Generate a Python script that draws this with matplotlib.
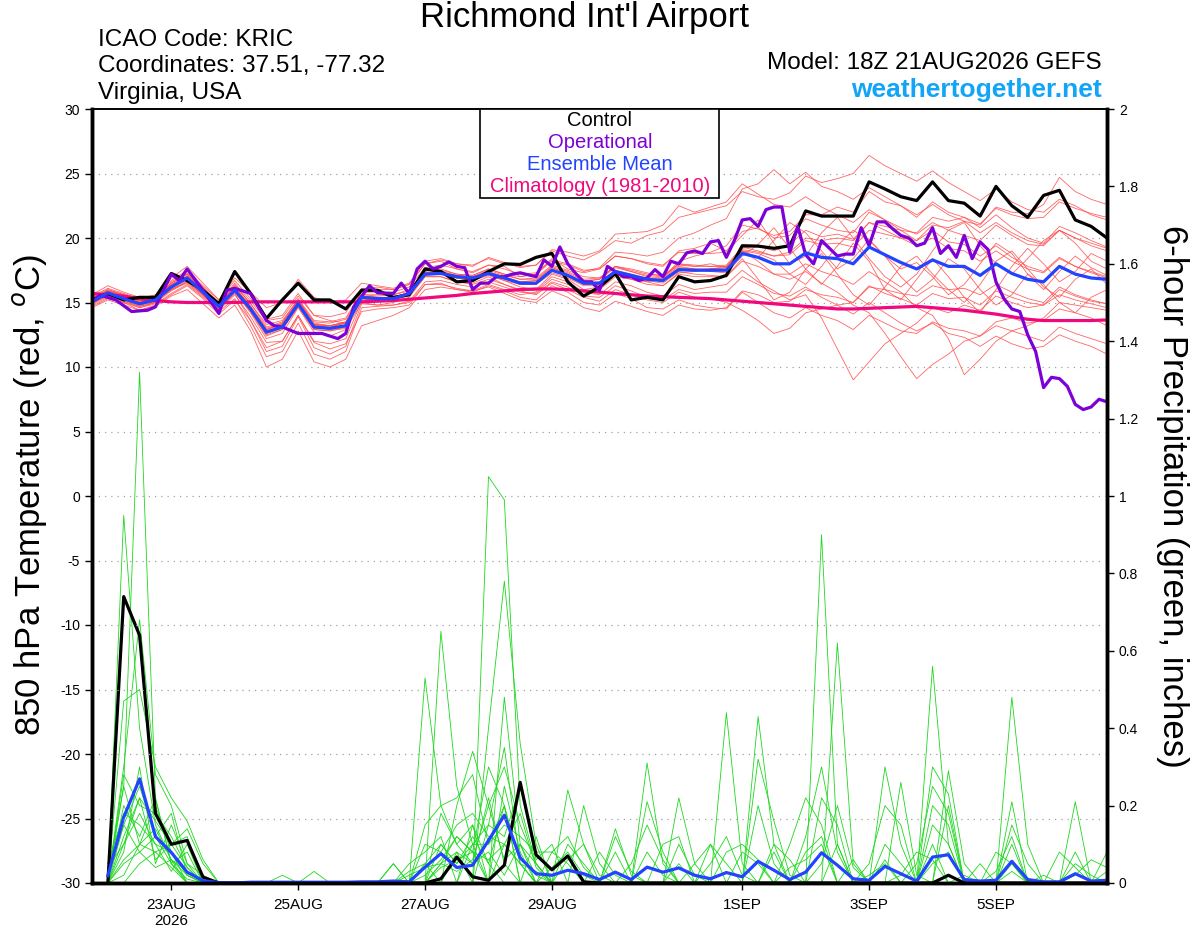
import matplotlib
matplotlib.use("Agg")
import matplotlib.pyplot as plt
from matplotlib.patches import Rectangle
import numpy as np

plt.rcParams['font.family'] = ['Liberation Sans', 'DejaVu Sans']
plt.rcParams['axes.unicode_minus'] = False

# forecast hours since 18Z 21AUG2026, 6-hourly
hours = list(range(0, 385, 6))
pcp_hours = list(range(6, 385, 6))

tick_hours = [30, 78, 126, 174, 246, 294, 342]
tick_labels = ['23AUG\n2026', '25AUG', '27AUG', '29AUG', '1SEP', '3SEP', '5SEP']

# 850 hPa temperature (C)
control_t = [15.2, 15.7, 15.2, 15.4, 15.4, 17.25, 16.7, 15.95, 14.9, 17.4, 15.7, 13.76, 15.2,
             16.5, 15.2, 15.2, 14.5, 15.95, 15.95, 15.4, 15.6, 17.6, 17.4, 16.6, 16.7, 17.4,
             18.0, 17.95, 18.5, 18.8, 16.6, 15.5, 16.2, 17.25, 15.2, 15.4, 15.2, 17.0, 16.6,
             16.7, 17.1, 19.4, 19.37, 19.2, 19.4, 22.1, 21.7, 21.7, 21.7, 24.35, 23.8, 23.2,
             22.9, 24.35, 22.9, 22.7, 21.7, 24.0, 22.5, 21.6, 23.3, 23.7, 21.4, 20.9, 20.0]

mean_t = [15.05, 15.75, 15.3, 14.9, 15.2, 16.2, 16.9, 15.8, 14.7, 15.95, 14.5, 12.7, 13.1,
          14.9, 13.1, 13.0, 13.2, 15.4, 15.3, 15.3, 15.7, 17.2, 17.25, 17.0, 16.9, 17.25,
          16.9, 16.5, 16.5, 17.5, 17.1, 16.5, 16.5, 17.4, 17.1, 16.8, 16.7, 17.55, 17.5,
          17.5, 17.5, 18.8, 18.5, 18.0, 18.0, 18.85, 18.5, 18.4, 18.0, 19.3, 18.7, 18.1,
          17.6, 18.3, 17.8, 17.8, 17.1, 18.0, 17.25, 16.8, 16.6, 17.8, 17.2, 16.9, 16.8]

clim_t = [15.7, 15.6, 15.5, 15.3, 15.15, 15.05, 15.0, 15.0, 15.0, 15.0, 15.05, 15.05, 15.05,
          15.05, 15.05, 15.05, 15.05, 15.05, 15.1, 15.15, 15.25, 15.35, 15.45, 15.55, 15.7, 15.8,
          15.9, 16.0, 16.05, 16.05, 16.0, 15.9, 15.8, 15.7, 15.6, 15.5, 15.45, 15.4, 15.35,
          15.3, 15.2, 15.1, 15.0, 14.9, 14.8, 14.7, 14.6, 14.5, 14.5, 14.55, 14.6, 14.65,
          14.7, 14.6, 14.5, 14.4, 14.25, 14.1, 13.9, 13.7, 13.6, 13.6, 13.6, 13.6, 13.65]

oper_hours = [0, 3, 9, 15, 21, 24, 30, 33, 36, 42, 48, 51, 54, 60, 66, 69, 72, 78, 87, 93, 96,
              99, 105, 108, 114, 117, 120, 123, 126, 129, 132, 135, 138, 141, 144, 147, 150,
              153, 156, 159, 162, 168, 171, 174, 177, 180, 183, 186, 189, 192, 195, 198, 201,
              204, 207, 210, 213, 216, 219, 222, 225, 228, 231, 234, 237, 240, 243, 246, 249,
              252, 255, 258, 261, 264, 267, 270, 273, 276, 279, 282, 285, 288, 291, 294, 297,
              300, 303, 306, 309, 312, 315, 318, 321, 324, 327, 330, 333, 336, 339, 342, 345,
              348, 351, 354, 357, 360, 363, 366, 369, 372, 375, 378, 381, 384]
oper_t = [15.05, 15.57, 15.2, 14.3, 14.4, 14.66, 17.2, 16.7, 17.6, 15.95, 14.15, 15.95, 16.1,
          15.7, 13.6, 13.2, 13.1, 12.6, 12.6, 12.2, 12.6, 14.66, 16.3, 15.75, 15.7, 16.5, 15.7,
          17.6, 18.2, 17.6, 17.8, 18.15, 17.8, 17.7, 16.0, 16.5, 16.5, 17.0, 17.0, 17.2, 17.3,
          17.0, 18.3, 17.8, 19.3, 18.0, 17.25, 16.6, 16.6, 15.95, 17.8, 17.4, 17.0, 17.0, 16.7,
          16.9, 17.55, 17.0, 18.2, 18.0, 18.85, 19.0, 18.8, 19.7, 19.8, 18.5, 19.8, 21.4, 21.5,
          20.9, 22.2, 22.4, 22.4, 18.9, 20.9, 18.7, 18.0, 19.8, 19.2, 18.6, 18.75, 18.75, 20.8,
          19.4, 21.25, 21.25, 20.7, 20.2, 20.0, 19.4, 19.6, 20.8, 18.8, 19.4, 18.5, 20.2, 18.4,
          19.7, 19.1, 16.6, 15.3, 14.5, 14.3, 12.5, 11.2, 8.4, 9.2, 9.1, 8.5, 7.1, 6.7, 6.9,
          7.5, 7.3]

temp_members = [
    [15.4, 16.0, 15.6, 15.2, 15.0, 16.6, 17.3, 16.2, 15.0, 16.5, 15.1, 13.6, 13.8,
     15.5, 14.0, 13.6, 13.4, 15.9, 16.2, 16.0, 16.4, 18.0, 18.2, 17.6, 17.3, 17.9,
     17.8, 17.0, 17.2, 18.4, 17.6, 17.3, 17.6, 18.6, 18.4, 18.0, 17.8, 19.0, 19.2,
     19.6, 19.0, 20.5, 20.8, 20.0, 20.2, 21.5, 21.0, 20.6, 20.4, 22.0, 21.4, 20.8,
     20.3, 21.2, 20.6, 20.2, 19.8, 21.0, 20.2, 19.5, 19.4, 20.6, 20.0, 19.6, 19.2],
    [14.8, 15.4, 15.0, 14.4, 14.8, 15.6, 16.3, 15.3, 14.1, 15.2, 13.6, 11.5, 12.0,
     14.0, 11.9, 11.4, 11.8, 14.3, 14.5, 14.6, 14.8, 16.4, 16.5, 16.0, 15.8, 16.3,
     15.9, 15.4, 15.2, 16.3, 15.8, 15.0, 14.8, 15.7, 15.3, 14.6, 14.5, 15.2, 14.8,
     14.6, 14.5, 15.8, 15.0, 14.2, 13.8, 14.6, 14.0, 13.6, 12.9, 14.0, 13.4, 12.8,
     12.6, 13.5, 13.0, 12.8, 12.4, 13.2, 12.8, 12.4, 12.0, 13.1, 12.6, 12.2, 11.8],
    [15.6, 16.3, 15.8, 15.4, 15.5, 16.9, 17.8, 16.5, 15.2, 16.9, 15.8, 14.6, 15.0,
     16.8, 15.4, 15.0, 15.2, 16.5, 16.3, 16.1, 16.5, 18.2, 18.4, 18.0, 17.8, 18.5,
     18.1, 17.7, 17.9, 19.0, 18.6, 18.3, 18.9, 19.8, 19.6, 20.2, 20.5, 21.6, 21.9,
     22.2, 22.5, 23.6, 23.2, 23.0, 23.5, 24.8, 24.3, 24.6, 25.0, 26.4, 25.6, 25.0,
     24.4, 25.2, 24.3, 23.6, 22.9, 23.8, 22.8, 22.2, 22.0, 23.0, 22.5, 21.8, 21.4],
    [15.0, 15.5, 15.4, 14.8, 15.3, 16.0, 16.5, 15.5, 14.5, 15.8, 14.2, 12.2, 12.6,
     14.6, 12.7, 12.4, 12.9, 15.0, 14.8, 15.0, 15.4, 17.0, 17.0, 16.6, 16.5, 17.0,
     16.4, 16.0, 15.9, 17.0, 16.6, 15.8, 15.6, 16.6, 16.3, 15.8, 15.5, 16.4, 16.0,
     16.2, 16.4, 17.5, 16.6, 15.9, 15.2, 15.6, 13.8, 11.4, 9.0, 10.4, 11.8, 12.6,
     13.4, 14.6, 14.2, 14.8, 14.4, 15.5, 15.0, 14.6, 14.8, 15.6, 15.2, 14.9, 14.6],
    [15.2, 15.9, 15.5, 15.0, 15.4, 16.4, 17.1, 16.0, 14.9, 16.3, 14.9, 13.3, 13.6,
     15.2, 13.5, 13.4, 13.7, 15.6, 15.5, 15.6, 16.0, 17.4, 17.6, 17.2, 17.1, 17.6,
     17.2, 16.8, 16.9, 17.9, 17.5, 17.0, 16.9, 17.8, 17.6, 17.3, 17.0, 18.0, 17.8,
     18.0, 17.7, 19.0, 18.2, 17.2, 16.8, 17.4, 16.5, 15.8, 14.8, 14.2, 12.6, 10.8,
     9.1, 10.2, 11.0, 12.0, 12.4, 13.5, 13.8, 13.4, 13.6, 14.5, 14.2, 13.8, 13.2],
    [14.6, 15.2, 14.8, 14.4, 14.7, 15.5, 16.0, 14.9, 13.8, 14.8, 12.8, 10.0, 10.6,
     12.8, 10.4, 10.0, 10.6, 13.2, 13.6, 14.0, 14.6, 16.0, 16.2, 16.0, 15.9, 16.4,
     16.0, 15.6, 15.8, 16.8, 16.4, 15.9, 16.0, 17.0, 16.8, 16.6, 16.3, 17.3, 17.4,
     17.6, 17.8, 19.2, 19.4, 19.0, 19.5, 20.6, 20.1, 20.3, 19.9, 21.2, 20.6, 20.0,
     19.4, 20.0, 19.2, 19.0, 18.2, 19.0, 18.2, 17.6, 17.3, 18.4, 17.8, 17.4, 17.0],
    [15.3, 15.8, 15.2, 14.7, 15.0, 16.3, 17.0, 15.9, 14.6, 16.2, 14.7, 12.9, 13.4,
     15.0, 13.2, 13.1, 13.4, 15.5, 15.4, 15.2, 15.5, 17.1, 17.3, 16.9, 16.7, 17.2,
     16.7, 16.2, 16.0, 17.2, 16.8, 16.0, 16.2, 17.3, 17.0, 16.6, 16.9, 18.2, 18.6,
     18.9, 19.4, 21.0, 20.7, 20.2, 20.5, 21.8, 21.8, 22.4, 22.0, 23.6, 22.8, 22.5,
     21.6, 22.8, 22.0, 21.6, 20.8, 21.8, 20.8, 20.0, 19.6, 20.9, 20.4, 19.8, 19.3],
    [14.9, 15.6, 15.1, 14.6, 15.0, 15.9, 16.6, 15.6, 14.4, 15.6, 13.9, 11.9, 12.0,
     14.0, 12.0, 11.8, 12.2, 15.1, 15.2, 15.2, 15.6, 17.0, 17.0, 16.6, 16.4, 16.8,
     16.4, 15.9, 15.6, 16.5, 16.0, 15.4, 15.1, 16.0, 15.6, 15.2, 15.0, 15.8, 15.4,
     15.3, 15.0, 14.4, 13.6, 12.6, 13.0, 14.2, 14.5, 14.8, 15.0, 16.2, 16.0, 15.7,
     15.5, 16.3, 16.0, 16.1, 15.6, 16.4, 15.8, 15.3, 15.0, 16.2, 15.6, 15.2, 14.9],
    [15.5, 16.1, 15.7, 15.3, 15.6, 16.7, 17.5, 16.3, 15.2, 16.7, 15.3, 13.7, 14.0,
     15.7, 14.0, 13.9, 14.2, 16.1, 16.0, 16.0, 16.4, 18.0, 18.3, 18.0, 17.9, 18.4,
     18.0, 17.8, 17.9, 19.1, 18.9, 18.6, 19.0, 20.3, 20.4, 20.5, 21.0, 22.5, 22.0,
     22.4, 22.8, 24.2, 23.4, 22.6, 22.4, 23.2, 22.4, 21.8, 21.2, 22.2, 21.4, 20.6,
     19.8, 20.6, 19.7, 19.5, 18.6, 19.4, 18.5, 17.8, 17.4, 18.5, 17.8, 17.3, 16.9],
    [15.3, 15.9, 15.5, 15.1, 15.3, 16.4, 17.0, 15.9, 14.8, 16.1, 14.6, 12.8, 13.2,
     15.0, 13.2, 13.2, 13.5, 15.6, 15.6, 15.6, 15.9, 17.5, 17.5, 17.2, 17.1, 17.6,
     17.2, 17.0, 17.2, 18.2, 17.9, 17.4, 17.7, 18.9, 18.8, 18.6, 18.9, 20.0, 20.4,
     21.0, 21.5, 23.8, 24.2, 25.3, 24.2, 25.1, 24.0, 23.6, 23.0, 23.9, 23.2, 22.5,
     21.8, 22.6, 21.8, 21.3, 20.4, 21.2, 20.4, 19.8, 19.5, 20.6, 20.0, 19.4, 19.0],
    [15.0, 15.6, 15.2, 14.9, 15.1, 16.1, 16.8, 15.7, 14.6, 15.9, 14.3, 12.5, 12.9,
     14.7, 12.9, 12.8, 13.0, 15.3, 15.2, 15.3, 15.8, 17.3, 17.4, 17.0, 16.8, 17.2,
     16.9, 16.6, 16.7, 17.7, 17.2, 16.6, 16.8, 17.8, 17.4, 17.0, 16.9, 17.8, 17.6,
     17.4, 17.3, 18.6, 19.5, 20.8, 19.2, 17.6, 16.4, 17.8, 19.6, 18.2, 16.0, 15.2,
     16.8, 18.4, 17.0, 15.4, 14.2, 16.0, 17.8, 19.2, 18.0, 16.6, 17.4, 18.8, 18.2],
    [15.2, 15.8, 15.4, 15.0, 15.2, 16.3, 17.0, 16.0, 14.9, 16.1, 14.6, 12.9, 13.3,
     15.1, 13.3, 13.2, 13.5, 15.5, 15.4, 15.4, 15.8, 17.3, 17.4, 17.1, 17.0, 17.4,
     17.0, 16.6, 16.7, 17.7, 17.3, 16.7, 16.8, 17.7, 17.4, 17.1, 17.0, 17.9, 17.8,
     17.8, 17.9, 19.3, 19.0, 18.6, 18.7, 19.8, 19.5, 19.6, 19.3, 20.6, 20.3, 20.0,
     19.8, 21.0, 20.8, 21.3, 21.0, 22.4, 22.0, 21.9, 22.6, 24.7, 23.6, 23.0, 22.6],
    [14.7, 15.3, 15.0, 14.6, 14.9, 15.7, 16.4, 15.4, 14.3, 15.3, 13.2, 10.8, 11.2,
     13.4, 11.0, 10.6, 11.2, 14.6, 14.7, 14.8, 15.1, 16.6, 16.7, 16.4, 16.2, 16.6,
     16.2, 15.8, 15.7, 16.6, 16.2, 15.5, 15.4, 16.3, 15.9, 15.4, 15.2, 16.0, 15.7,
     15.8, 15.8, 17.0, 16.4, 15.7, 15.5, 16.2, 15.4, 14.8, 14.1, 15.0, 14.2, 13.4,
     12.8, 13.4, 12.6, 12.3, 11.6, 12.4, 11.8, 11.4, 11.6, 12.5, 12.0, 11.6, 11.0],
    [15.4, 15.9, 15.6, 15.1, 15.4, 16.5, 17.2, 16.1, 14.9, 16.4, 14.9, 13.1, 13.5,
     15.3, 13.6, 13.5, 13.8, 15.8, 15.8, 15.8, 16.2, 17.7, 17.9, 17.6, 17.4, 17.9,
     17.6, 17.2, 17.3, 18.3, 18.0, 17.5, 17.6, 18.6, 18.4, 18.1, 17.9, 18.9, 18.8,
     18.8, 18.9, 20.2, 21.4, 19.6, 18.0, 18.6, 20.4, 21.6, 20.0, 18.4, 17.0, 16.2,
     17.2, 19.0, 20.6, 21.2, 19.4, 18.0, 17.2, 18.4, 19.8, 20.6, 19.6, 18.2, 17.6],
    [15.1, 15.7, 15.3, 14.9, 15.2, 16.2, 16.8, 15.8, 14.7, 16.0, 14.5, 12.6, 13.0,
     14.8, 13.0, 12.9, 13.1, 15.3, 15.2, 15.2, 15.6, 17.1, 17.2, 16.9, 16.7, 17.1,
     16.7, 16.4, 16.4, 17.3, 16.9, 16.3, 16.3, 17.2, 16.8, 16.4, 16.3, 17.2, 17.0,
     17.0, 17.0, 18.2, 17.8, 17.2, 17.2, 18.0, 17.4, 17.0, 16.4, 17.4, 16.6, 15.8,
     14.6, 14.0, 12.2, 9.4, 10.6, 12.0, 12.8, 13.2, 13.8, 15.0, 14.8, 14.6, 14.4],
    [15.3, 16.0, 15.6, 15.1, 15.4, 16.5, 17.2, 16.0, 14.9, 16.2, 14.7, 13.0, 13.4,
     15.2, 13.4, 13.2, 13.4, 15.4, 15.3, 15.3, 15.6, 17.2, 17.3, 16.9, 16.8, 17.3,
     16.9, 16.4, 16.4, 17.5, 17.1, 16.4, 16.4, 17.3, 17.0, 16.7, 16.5, 17.4, 17.2,
     17.1, 17.0, 18.4, 16.8, 15.2, 15.8, 17.6, 18.8, 17.2, 15.6, 14.8, 16.2, 17.8,
     18.6, 17.2, 16.0, 15.0, 16.4, 18.2, 19.0, 17.6, 16.2, 15.4, 16.8, 17.6, 16.4],
    [14.9, 15.5, 15.1, 14.7, 15.0, 16.0, 16.6, 15.6, 14.5, 15.7, 13.6, 11.2, 11.6,
     13.9, 11.5, 11.0, 11.6, 14.9, 14.8, 14.8, 15.0, 16.4, 16.4, 16.1, 15.9, 16.2,
     15.7, 15.2, 15.0, 15.9, 15.4, 14.6, 14.3, 15.1, 14.7, 14.3, 14.0, 14.8, 14.5,
     14.4, 14.6, 15.9, 15.6, 15.0, 15.1, 16.0, 15.6, 15.4, 15.0, 16.3, 15.7, 15.3,
     14.8, 15.7, 15.3, 15.4, 14.8, 15.9, 15.4, 15.0, 14.8, 16.0, 15.5, 15.1, 14.9],
    [15.0, 15.6, 15.3, 14.8, 15.1, 16.1, 16.9, 15.8, 14.7, 16.0, 14.5, 12.7, 13.1,
     14.9, 13.1, 13.0, 13.2, 15.4, 15.3, 15.3, 15.7, 17.2, 17.2, 16.9, 16.8, 17.2,
     16.8, 16.5, 16.4, 17.5, 17.0, 16.4, 16.4, 17.4, 17.1, 16.8, 16.7, 17.6, 17.5,
     17.6, 17.7, 19.1, 18.9, 18.6, 18.9, 20.0, 19.8, 20.0, 19.8, 21.2, 20.9, 20.6,
     20.4, 21.6, 21.3, 21.6, 21.1, 22.3, 21.8, 21.5, 21.6, 22.8, 22.3, 21.9, 21.6],
    [15.2, 15.8, 15.4, 15.0, 15.3, 16.3, 17.0, 15.9, 14.8, 16.1, 14.6, 12.9, 13.3,
     15.1, 13.3, 13.2, 13.4, 15.5, 15.4, 15.4, 15.8, 17.3, 17.4, 17.1, 17.0, 17.5,
     17.1, 16.8, 16.8, 17.8, 17.4, 16.8, 16.9, 17.8, 17.5, 17.2, 17.1, 18.0, 17.9,
     17.8, 17.8, 19.0, 18.5, 19.8, 21.2, 20.4, 19.0, 17.6, 18.4, 19.9, 18.6, 17.0,
     15.8, 16.8, 18.4, 17.6, 16.0, 14.8, 15.6, 17.2, 16.4, 15.0, 14.2, 15.4, 16.0],
    [15.1, 15.6, 15.2, 14.8, 15.1, 16.0, 16.7, 15.6, 14.5, 15.8, 14.3, 12.4, 12.9,
     14.7, 12.9, 12.8, 13.1, 15.2, 15.2, 15.3, 15.7, 17.2, 17.3, 17.0, 16.9, 17.3,
     16.9, 16.5, 16.5, 17.5, 17.1, 16.5, 16.6, 17.5, 17.2, 16.9, 16.8, 17.7, 17.6,
     17.6, 17.6, 19.0, 18.8, 18.3, 17.2, 16.4, 17.8, 19.4, 20.6, 19.8, 18.6, 17.6,
     18.1, 17.0, 15.6, 16.4, 18.0, 19.6, 18.8, 17.2, 16.0, 17.4, 18.6, 17.7, 17.1],
]

# 6-hour precipitation (inches), valid 6h..384h
control_p = [0, .74, .64, .18, .10, .11, .015, 0, 0, 0, 0, 0, 0, 0, 0, 0,
             0, 0, 0, 0, 0, .011, .067, .016, .007, .046, .26, .073, .034, .07, .003, 0,
             0, 0, 0, 0, 0, 0, 0, 0, 0, 0, 0, 0, 0, 0, 0, 0,
             0, 0, 0, 0, 0, .02, 0, 0, 0, 0, 0, 0, 0, 0, 0, 0]
mean_p = [.019, .17, .269, .12, .079, .028, .006, .001, 0, .002, .002, .002, .002, .002, .002, .002,
          .003, .003, .005, .003, .041, .076, .04, .046, .11, .175, .065, .024, .02, .033, .024, .009,
          .028, .009, .041, .028, .039, .02, .011, .027, .016, .056, .033, .009, .028, .078, .046, .011,
          .007, .043, .024, .005, .067, .073, .009, .005, .007, .056, .009, .003, .003, .024, .005, .007]

precip_members = [
    [.02, .25, 1.32, .22, .05, .01, 0, 0, 0, 0, 0, 0, 0, 0, 0, 0,
     0, 0, 0, 0, 0, .05, .12, .08, .3, .2, .05, 0, 0, 0, 0, 0,
     0, 0, .31, .05, 0, 0, 0, 0, 0, 0, 0, 0, 0, .9, .1, 0,
     0, 0, 0, 0, .1, 0, 0, 0, 0, 0, 0, 0, 0, 0, 0, 0],
    [0, .95, .4, .15, .06, 0, 0, 0, 0, 0, 0, 0, 0, 0, 0, 0,
     0, 0, 0, 0, .53, .2, .1, .15, .05, 0, 0, 0, 0, 0, 0, 0,
     0, 0, 0, 0, 0, 0, 0, .44, .05, 0, 0, 0, 0, 0, 0, 0,
     0, .3, .1, 0, 0, 0, 0, 0, 0, .05, 0, 0, 0, 0, 0, 0],
    [0, .3, .68, .28, .2, .05, 0, 0, 0, 0, 0, 0, 0, 0, 0, 0,
     0, 0, 0, 0, 0, .65, .25, .1, 0, .48, .1, 0, 0, 0, 0, 0,
     0, 0, 0, 0, 0, 0, 0, 0, 0, .43, .1, 0, 0, 0, 0, 0,
     0, 0, 0, 0, .56, .1, 0, 0, 0, 0, 0, 0, 0, 0, 0, 0],
    [0, .47, .5, .3, .22, .16, .06, 0, 0, 0, 0, 0, 0, 0, 0, 0,
     0, 0, 0, 0, 0, 0, 0, 0, 1.05, .99, .2, .05, 0, 0, 0, 0,
     0, 0, 0, 0, 0, 0, 0, 0, 0, 0, 0, 0, 0, 0, .62, .05,
     0, 0, 0, 0, 0, 0, 0, 0, 0, .48, .1, 0, 0, 0, 0, 0],
    [0, .28, .2, .18, .12, .04, 0, 0, 0, 0, 0, 0, 0, 0, 0, 0,
     0, 0, 0, 0, 0, 0, 0, 0, .4, .78, .36, .1, 0, 0, 0, 0,
     .14, .02, 0, 0, 0, 0, 0, 0, 0, .32, .16, .02, 0, 0, 0, 0,
     0, 0, 0, 0, 0, 0, 0, 0, 0, 0, 0, 0, 0, .21, 0, 0],
    [.05, .18, .15, .1, .08, 0, 0, 0, 0, 0, 0, 0, 0, 0, 0, 0,
     0, 0, 0, 0, 0, 0, .2, .34, .2, .3, .15, .05, 0, .24, .1, 0,
     0, 0, 0, 0, 0, 0, 0, 0, 0, 0, 0, 0, 0, .22, .15, 0,
     0, 0, 0, 0, 0, .29, .05, 0, 0, 0, 0, 0, 0, 0, 0, 0],
    [0, .12, .22, .16, .1, .12, 0, 0, 0, 0, 0, 0, 0, 0, 0, 0,
     0, 0, 0, 0, .15, .2, .22, .28, .1, .2, 0, .12, 0, 0, .2, .05,
     0, 0, 0, 0, .22, .05, 0, 0, 0, 0, 0, 0, 0, 0, 0, 0,
     0, 0, .26, .02, 0, 0, 0, 0, 0, 0, 0, 0, 0, 0, 0, 0],
    [0, .08, .3, .05, .15, .05, .02, 0, 0, 0, 0, 0, 0, 0, 0, 0,
     0, 0, 0, .05, .08, .12, 0, .15, 0, .25, .08, 0, 0, 0, 0, 0,
     0, 0, .21, .08, 0, 0, 0, 0, 0, 0, 0, .1, .22, .15, 0, 0,
     0, 0, 0, 0, .3, .23, 0, 0, 0, .21, 0, 0, 0, 0, 0, 0],
    [0, .2, .12, .22, .05, .08, 0, 0, 0, 0, 0, 0, 0, 0, 0, 0,
     0, 0, 0, 0, 0, .05, .08, 0, .15, .12, .25, .06, .1, 0, 0, 0,
     .08, 0, 0, 0, 0, 0, .1, .05, 0, 0, 0, 0, 0, 0, 0, 0,
     .05, .2, .15, 0, 0, 0, 0, 0, 0, 0, 0, 0, 0, 0, 0, .08],
    [.02, .15, .08, .12, .18, .02, 0, 0, 0, 0, 0, 0, 0, 0, 0, 0,
     0, 0, .05, 0, 0, .18, .1, .05, .22, .05, 0, 0, 0, .1, .05, 0,
     0, 0, 0, 0, 0, 0, 0, 0, 0, .2, .05, 0, 0, 0, .1, 0,
     0, 0, 0, 0, .2, .15, 0, .05, 0, 0, 0, 0, .08, .04, 0, 0],
    [0, .1, .18, .1, .03, .1, 0, 0, 0, 0, 0, 0, 0, 0, 0, 0,
     0, 0, 0, 0, .1, .08, .15, .18, .12, .1, .05, 0, .08, .05, 0, 0,
     0, 0, 0, .1, .12, 0, 0, 0, .08, .05, 0, 0, .12, .3, .08, 0,
     0, 0, 0, 0, 0, .2, 0, 0, 0, .1, 0, 0, 0, 0, 0, 0],
    [0, .06, .1, .14, .06, .03, 0, 0, 0, 0, 0, 0, 0, 0, 0, 0,
     0, 0, 0, 0, 0, 0, 0, .1, .15, .35, .05, .03, 0, 0, 0, .08,
     .02, 0, 0, 0, 0, 0, .05, .12, .02, 0, .08, 0, 0, 0, 0, 0,
     0, 0, 0, .05, .25, .18, 0, 0, 0, .15, .05, 0, 0, 0, 0, 0],
    [0, 0, .05, .08, .1, .14, .05, 0, 0, 0, 0, 0, 0, 0, 0, 0,
     0, 0, 0, 0, .05, .1, .05, .1, .1, .15, .12, .08, .08, .12, .04, 0,
     0, .05, .15, .06, 0, 0, 0, 0, 0, 0, 0, 0, 0, 0, 0, .06,
     0, .1, .05, 0, 0, 0, 0, 0, 0, 0, 0, 0, 0, .08, 0, .03],
    [0, .02, .1, .2, .08, .02, 0, 0, 0, 0, 0, .02, 0, 0, 0, 0,
     0, 0, 0, 0, .02, .06, .12, .08, .06, .1, .18, .04, 0, 0, 0, 0,
     .12, .03, 0, 0, .1, .02, 0, 0, 0, 0, 0, .04, .06, .1, 0, 0,
     0, 0, 0, 0, 0, 0, 0, 0, .03, .12, 0, .02, 0, 0, 0, 0],
    [0, .15, .25, .12, .05, 0, 0, 0, 0, 0, 0, 0, 0, .03, 0, 0,
     0, 0, 0, .02, .04, .05, .03, .06, .2, .06, .1, .02, 0, 0, 0, 0,
     0, 0, 0, 0, 0, 0, 0, .08, .1, .06, 0, 0, 0, 0, 0, 0,
     .02, .05, 0, 0, 0, 0, .02, 0, 0, 0, 0, 0, 0, .05, .02, 0],
    [.04, .1, .22, .06, .1, .04, 0, 0, 0, 0, 0, 0, 0, 0, 0, 0,
     0, 0, .05, 0, 0, .1, .05, .12, .05, .2, 0, 0, 0, .06, .1, .02,
     0, 0, 0, 0, 0, .05, .1, 0, 0, 0, 0, 0, 0, .05, .2, .04,
     0, 0, 0, 0, .15, .1, 0, 0, 0, 0, 0, 0, 0, 0, 0, 0],
    [0, .05, .08, .04, .06, .02, 0, 0, 0, 0, 0, 0, 0, 0, 0, 0,
     0, 0, 0, 0, 0, .04, .06, .08, 0, .1, .05, 0, .04, .08, .02, 0,
     0, 0, .08, .02, 0, 0, 0, 0, 0, 0, .1, .06, 0, 0, 0, 0,
     0, 0, .02, .08, .06, 0, 0, 0, .08, .05, 0, 0, 0, .02, .06, .04],
    [0, .25, .1, .08, .04, 0, 0, 0, 0, 0, 0, 0, 0, 0, 0, 0,
     0, 0, 0, .03, .05, 0, .08, .05, .08, .02, .1, .05, 0, 0, 0, 0,
     0, 0, 0, 0, .05, 0, 0, 0, 0, 0, 0, 0, .08, .12, 0, 0,
     0, .06, 0, 0, .05, .08, 0, 0, 0, .03, 0, 0, 0, 0, 0, 0],
]

RED = '#ff4a4a'
GREEN = '#1ed81e'
PURPLE = '#7d00d6'
BLUE = '#2244ff'
PINK = '#f0087f'

fig = plt.figure(figsize=(12, 9.27), dpi=100)
ax = fig.add_axes([92 / 1200, 44 / 927, 1015 / 1200, 774 / 927])
ax2 = ax.twinx()

ax.set_zorder(2)
ax.patch.set_visible(False)

# precipitation on the right axis
for m in precip_members:
    ax2.plot(pcp_hours, m, color=GREEN, lw=0.6)
ax2.plot(pcp_hours, control_p, color='black', lw=2.3)
ax2.plot(pcp_hours, mean_p, color=BLUE, lw=2.3)
ax2.set_ylim(0, 2)
ax2.set_yticks(np.arange(0, 2.01, 0.2))
ax2.set_yticklabels(['{:g}'.format(round(v, 1)) for v in np.arange(0, 2.01, 0.2)])

# temperature on the left axis
for m in temp_members:
    ax.plot(hours, m, color=RED, lw=0.6, alpha=0.85)
ax.plot(hours, clim_t, color=PINK, lw=2.3)
ax.plot(hours, control_t, color='black', lw=2.3)
ax.plot(oper_hours, oper_t, color=PURPLE, lw=2.3)
ax.plot(hours, mean_t, color=BLUE, lw=2.3)

ax.set_xlim(0, 384)
ax.set_ylim(-30, 30)
ax.set_yticks(range(-30, 31, 5))
ax.set_xticks(tick_hours)
ax.set_xticklabels(tick_labels)
for y in range(-25, 30, 5):
    ax.axhline(y, color='#a0a0a0', lw=0.9, ls=(0, (1, 4)), zorder=0)

for a in (ax, ax2):
    for s in ('left', 'right', 'bottom'):
        a.spines[s].set_linewidth(2.5)
    a.spines['top'].set_linewidth(1.2)
ax.tick_params(axis='y', labelsize=10, length=5, width=1)
ax.tick_params(axis='x', labelsize=11, length=5, width=1, pad=6)
ax2.tick_params(axis='y', labelsize=10, length=5, width=1)

fig.text(30 / 1200, 1 - 495 / 927, '850 hPa Temperature (red, $^{o}$C)', rotation=90,
         ha='center', va='center', fontsize=25)
fig.text(1172 / 1200, 1 - 496 / 927, '6-hour Precipitation (green, inches)', rotation=-90,
         ha='center', va='center', fontsize=25)

# legend box
box = Rectangle((480 / 1200, 1 - 198 / 927), 239 / 1200, 89 / 927, transform=fig.transFigure,
                fc='white', ec='black', lw=1.2, zorder=10)
fig.add_artist(box)
for txt, col, yy in [('Control', 'black', 121), ('Operational', PURPLE, 142),
                     ('Ensemble Mean', BLUE, 164), ('Climatology (1981-2010)', PINK, 186)]:
    fig.text(600 / 1200, 1 - yy / 927, txt, color=col, ha='center', va='center',
             fontsize=14.5, zorder=11)

fig.text(585 / 1200, 1 - 18 / 927, "Richmond Int'l Airport", ha='center', va='center', fontsize=25)
fig.text(98 / 1200, 1 - 40 / 927, 'ICAO Code: KRIC', ha='left', va='center', fontsize=17.5)
fig.text(98 / 1200, 1 - 66 / 927, 'Coordinates: 37.51, -77.32', ha='left', va='center', fontsize=17.5)
fig.text(98 / 1200, 1 - 93 / 927, 'Virginia, USA', ha='left', va='center', fontsize=17.5)
fig.text(1102 / 1200, 1 - 63 / 927, 'Model: 18Z 21AUG2026 GEFS', ha='right', va='center', fontsize=17.5)
fig.text(1102 / 1200, 1 - 90 / 927, 'weathertogether.net', ha='right', va='center',
         fontsize=19, fontweight='bold', color='#12a4f7')

fig.savefig('out.png', dpi=100)
